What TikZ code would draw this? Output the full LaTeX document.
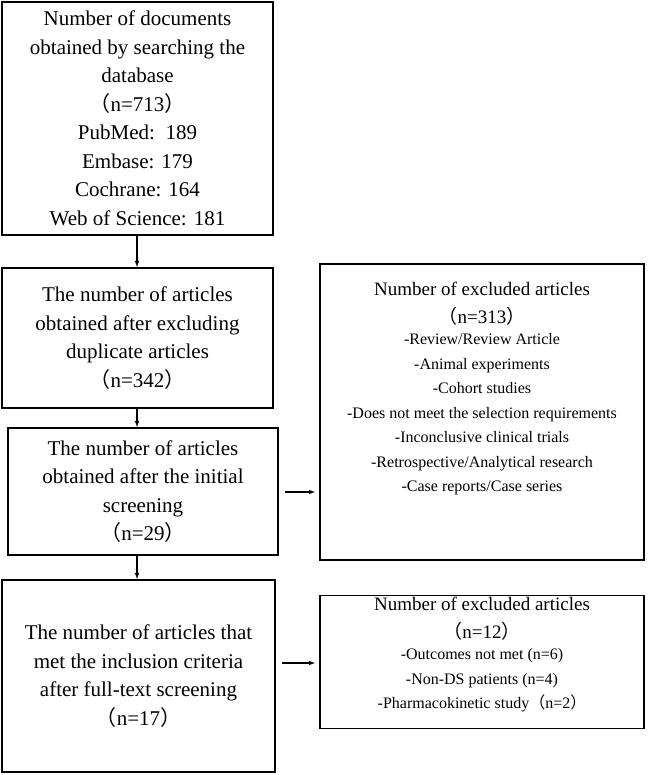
\documentclass[tikz,border=0pt]{standalone}
\usepackage{fontspec}
\setmainfont{Liberation Serif}
\newfontfamily\cjk{Noto Sans CJK SC}
\newcommand{\np}[1]{{\cjk （}n=#1{\cjk ）}}
\begin{document}
\begin{tikzpicture}[x=1pt,y=-1pt,
  box/.style={draw,line width=1.8pt,inner sep=0pt},
  txt/.style={align=center,font=\fontsize{21}{28.5}\selectfont},
  head/.style={align=center,font=\fontsize{19}{28}\selectfont},
  small/.style={align=center,font=\fontsize{16}{24.5}\selectfont},
  arr/.style={-latex,line width=1.1pt}]
\useasboundingbox (0,0) rectangle (650,775);
\node[box,minimum width=271,minimum height=233] (b1) at (137.5,118.5) {};
\node[txt] (t1) at (b1) {Number of documents\\obtained by searching the\\database\\\np{713}\\PubMed:\ \ 189\\Embase: 179\\Cochrane: 164\\Web of Science: 181};
\node[box,minimum width=271,minimum height=140] (b2) at (137.5,338) {};
\node[txt] (t2) at (b2) {The number of articles\\obtained after excluding\\duplicate articles\\\np{342}};
\node[box,minimum width=270,minimum height=127] (b3) at (143,491.5) {};
\node[txt] (t3) at (b3) {The number of articles\\obtained after the initial\\screening\\\np{29}};
\node[box,minimum width=273,minimum height=192] (b4) at (138.5,676) {};
\node[txt] (t4) at (b4) {The number of articles that\\met the inclusion criteria\\after full-text screening\\\np{17}};
\node[box,minimum width=324,minimum height=296] (r1) at (482,412) {};
\node[head] (h1) at (482,304) {Number of excluded articles\\\np{313}};
\node[small,anchor=north] (l1) at (482,330) {-Review/Review Article\\-Animal experiments\\-Cohort studies\\-Does not meet the selection requirements\\-Inconclusive clinical trials\\-Retrospective/Analytical research\\-Case reports/Case series};
\node[box,minimum width=324,minimum height=133] (r2) at (482,662) {};
\node[head] (h2) at (482,619) {Number of excluded articles\\\np{12}};
\node[small,anchor=north] (l2) at (482,645) {-Outcomes not met (n=6)\\-Non-DS patients (n=4)\\-Pharmacokinetic study\np{2}};
\draw[arr] (b1.south -| 137,0) -- (b2.north -| 137,0);
\draw[arr] (b2.south -| 137,0) -- (b3.north -| 137,0);
\draw[arr] (b3.south -| 137,0) -- (b4.north -| 137,0);
\draw[arr] ([xshift=6pt]b3.east |- 0,492) -- ([xshift=-4pt]r1.west |- 0,492);
\draw[arr] ([xshift=6pt]b4.east |- 0,663) -- ([xshift=-4pt]r2.west |- 0,663);
\end{tikzpicture}
\end{document}
